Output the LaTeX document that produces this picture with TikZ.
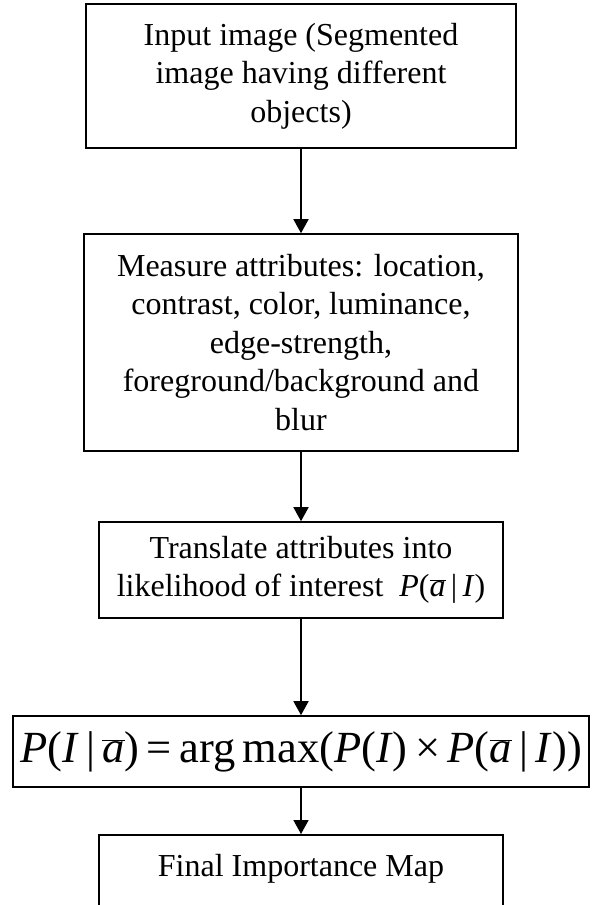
\documentclass[tikz,border=0pt]{standalone}
\usepackage{fontspec}
\setmainfont{Liberation Serif}
\usetikzlibrary{arrows.meta}
\newcommand{\abar}{$\overline{\mbox{\itshape a}}$}
\begin{document}
\begin{tikzpicture}[x=1pt,y=-1pt,
  box/.style={draw, line width=1.6pt, align=center, inner sep=0pt, font=\fontsize{32}{38.5}\selectfont},
  conn/.style={line width=1.6pt, -{Triangle[width=15pt,length=14pt]}}]
\useasboundingbox (0,0) rectangle (595,905);
\clip (0,0) rectangle (595,905);
\node[box, minimum width=430pt, minimum height=144pt] (n1) at (301,76)
  {Input image (Segmented\\image having different\\objects)};
\node[box, minimum width=434pt, minimum height=217pt] (n2) at (301,342.5)
  {Measure attributes: location,\\contrast, color, luminance,\\edge-strength,\\foreground/background and\\blur};
\node[box, minimum width=404pt, minimum height=96pt] (n3) at (301,570)
  {Translate attributes into\\likelihood of interest \ \textit{P}(\abar\,|\,\textit{I})};
\node[box, minimum width=576pt, minimum height=71pt, font=\fontsize{44.5}{48}\selectfont] (n4) at (301,751.5)
  {\textit{P}(\textit{I}\,|\,\abar)\,=\,arg\,max(\textit{P}(\textit{I})\,×\,\textit{P}(\abar\,|\,\textit{I}))};
\node[box, minimum width=404pt, anchor=north, inner ysep=20pt, text height=22pt, text depth=40pt] (n5) at (301,834)
  {Final Importance Map};
\draw[conn] (n1) -- (n2);
\draw[conn] (n2) -- (n3);
\draw[conn] (n3) -- (n4);
\draw[conn] (n4) -- (n5);
\end{tikzpicture}
\end{document}
